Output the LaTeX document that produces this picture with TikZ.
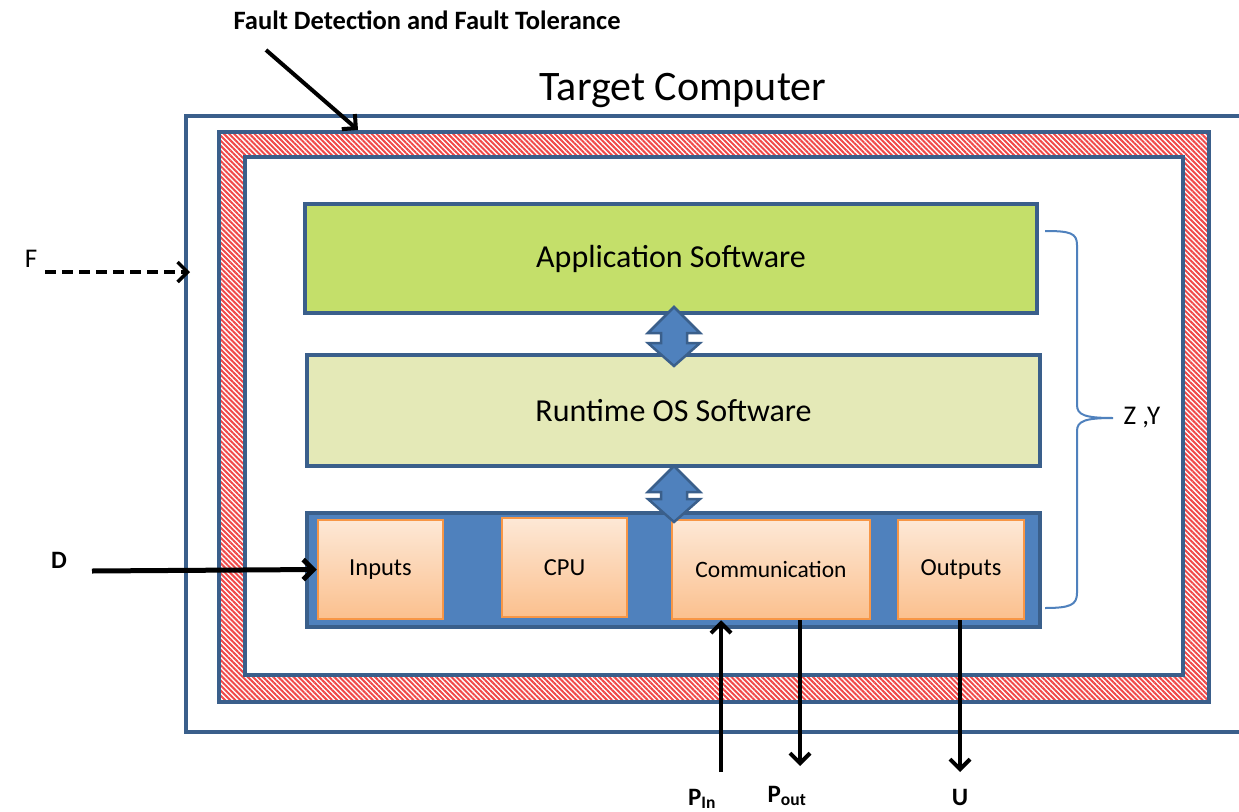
\documentclass[tikz,border=0pt]{standalone}
\usepackage{fontspec}
\setmainfont{Carlito}
\usetikzlibrary{patterns.meta,arrows.meta}
\definecolor{dkblue}{HTML}{3A5F8B}
\definecolor{midblue}{HTML}{4F81BD}
\definecolor{appgreen}{HTML}{C4DF6A}
\definecolor{osgreen}{HTML}{E4E9B7}
\definecolor{orangeline}{HTML}{F79646}
\definecolor{orangetop}{HTML}{FDE8D6}
\definecolor{orangebot}{HTML}{FBC08E}
\definecolor{hatchred}{HTML}{F04848}
\tikzset{
  layerbox/.style={draw=dkblue, line width=4, minimum width=733, minimum height=110, inner sep=0},
  unitbox/.style={draw=orangeline, line width=2.5, top color=orangetop, bottom color=orangebot, minimum height=99, inner sep=0, font=\fontsize{24.5}{28}\selectfont},
  blackarrow/.style={line width=4, -{Straight Barb[length=10, width=20]}},
  lbl/.style={inner sep=0, font=\fontsize{25}{28}\selectfont\bfseries},
  dblarrow/.style={fill=midblue, draw=dkblue, line width=2.5, line join=miter}
}
\begin{document}
\begin{tikzpicture}[x=1pt,y=-1pt]
\useasboundingbox (0,0) rectangle (1239,811);
\fill[white] (0,0) rectangle (1239,811);

% outer target computer box (runs off the right edge)
\draw[dkblue, line width=4] (1239,116) -- (186,116) -- (186,732) -- (1239,732);

% hatched fault tolerance frame
\fill[white] (219,132) rectangle (1209,702);
\fill[pattern={Lines[angle=-45, distance=3.6, line width=2]}, pattern color=hatchred, even odd rule]
  (219,132) rectangle (1209,702) (245,157) rectangle (1183,675);
\draw[dkblue, line width=3.5] (219,132) rectangle (1209,702);
\draw[dkblue, line width=3.5] (245,157) rectangle (1183,675);

% layers
\node[layerbox, fill=appgreen, minimum width=732, minimum height=109, font=\fontsize{32}{36}\selectfont] (app) at (671,258.5) {Application Software};
\node[layerbox, fill=osgreen, minimum height=111, font=\fontsize{32}{36}\selectfont] (os) at (673.5,410.5) {Runtime OS Software};
\node[layerbox, fill=midblue, minimum height=114] (bar) at (673.5,570) {};

\node[unitbox, minimum width=125] (inputs) at (380.5,569.5) {Inputs};
\node[unitbox, minimum width=125] (cpu) at (564.5,567.5) {CPU};
\node[unitbox, minimum width=198, font=\fontsize{23.5}{27}\selectfont] (comm) at (771,569.5) {Communication};
\node[unitbox, minimum width=126] (outputs) at (961,569.5) {Outputs};

% block double arrows
\draw[dblarrow] (674,307) -- (700,333) -- (687,333) -- (687,343) -- (700,343) -- (674,366) -- (648,343) -- (661,343) -- (661,333) -- (648,333) -- cycle;
\draw[dblarrow] (674,466) -- (700,492) -- (687,492) -- (687,499) -- (700,499) -- (674,522) -- (648,499) -- (661,499) -- (661,492) -- (648,492) -- cycle;

% brace
\draw[midblue, line width=2] (1045,231) .. controls (1070,231) and (1077,233) .. (1077,245) -- (1077,405) .. controls (1077,415) and (1085,418) .. (1113,418) .. controls (1085,418) and (1077,421) .. (1077,431) -- (1077,593) .. controls (1077,605) and (1070,608) .. (1045,608);
\node[inner sep=0, font=\fontsize{27}{30}\selectfont] (zy) at (1142,418) {Z ,Y};

% titles
\node[inner sep=0, font=\fontsize{42}{46}\selectfont] (title) at (683,90) {Target Computer};
\node[lbl, font=\fontsize{26.5}{30}\selectfont\bfseries] (fdft) at (427,20) {Fault Detection and Fault Tolerance};
\coordinate (fdstart) at (266,50);
\coordinate (fdend) at (358,130);
\draw[blackarrow] (fdstart) -- (fdend);

% F
\node[inner sep=0, font=\fontsize{27}{30}\selectfont] (F) at (31,259) {F};
\coordinate (fstart) at (45,272);
\coordinate (fend) at (190,272);
\draw[blackarrow, line width=3.5, dash pattern=on 11 off 6] (fstart) -- (fend);

% D
\node[lbl] (D) at (59,560) {D};
\coordinate (dstart) at (92,571);
\draw[blackarrow, line width=5] (dstart) -- (inputs.west);

% bottom signals
\coordinate (pinstart) at (721,772);
\coordinate (poutend) at (800,766);
\coordinate (uend) at (960,772);
\draw[blackarrow] (pinstart) -- (comm.south -| pinstart);
\draw[blackarrow] (comm.south -| poutend) -- (poutend);
\draw[blackarrow] (outputs.south -| uend) -- (uend);
\node[lbl] (pin) at (702,799) {P\textsubscript{In}};
\node[lbl] (pout) at (787,796) {P\textsubscript{out}};
\node[lbl] (U) at (960,797) {U};
\end{tikzpicture}
\end{document}
